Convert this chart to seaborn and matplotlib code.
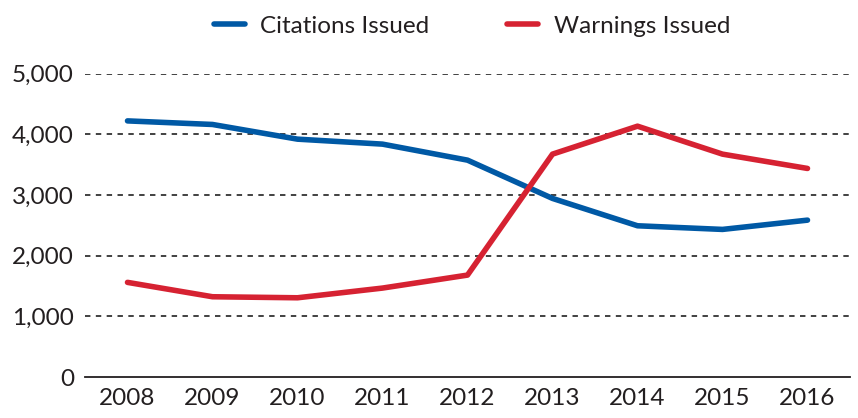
import matplotlib
matplotlib.use("Agg")
import matplotlib.pyplot as plt
import pandas as pd
import seaborn as sb

# valores
ANOS = ["2008", "2009", "2010", "2011", "2012", "2013", "2014", "2015", "2016"]
CITACOES = [4222, 4163, 3921, 3839, 3575, 2944, 2493, 2433, 2586]
AVISOS = [1560, 1323, 1306, 1466, 1680, 3674, 4135, 3674, 3438]
SERIES = ["Citations Issued", "Warnings Issued"]
CORES = ["#0059a5", "#d62232"]
Y_TICKS = [0, 1000, 2000, 3000, 4000, 5000]


def build_df() -> pd.DataFrame:
    df = pd.DataFrame({"ano": ANOS, SERIES[0]: CITACOES, SERIES[1]: AVISOS})
    return df.melt(id_vars="ano", var_name="serie", value_name="valor")


def plot_chart(df: pd.DataFrame):
    sb.set_style("white")
    plt.rcParams["font.family"] = ["Lato", "DejaVu Sans"]

    fig = plt.figure(figsize=(8.58, 4.18), dpi=100)
    ax = fig.add_axes([85 / 858, 1 - 377 / 418, 765 / 858, (377 - 73.7) / 418])

    sb.lineplot(data=df, x="ano", y="valor", hue="serie", hue_order=SERIES,
                palette=CORES, linewidth=4.0, ax=ax, sort=False,
                solid_capstyle="round")

    ax.set_xlim(-0.5, len(ANOS) - 0.5)
    ax.set_ylim(0, 5000)
    ax.set_yticks(Y_TICKS)
    ax.set_yticklabels([f"{v:,}" for v in Y_TICKS])
    ax.set_xlabel("")
    ax.set_ylabel("")

    # grade tracejada
    for v in Y_TICKS[1:]:
        ax.axhline(v, color="#333333", lw=1.3, ls=(0, (3.0, 3.0)), zorder=0)

    for lado in ["top", "right", "left"]:
        ax.spines[lado].set_visible(False)
    ax.spines["bottom"].set_color("#231f20")
    ax.spines["bottom"].set_linewidth(1.3)

    fs = 17.5
    ax.tick_params(axis="y", length=0, pad=8, labelsize=fs, labelcolor="#231f20")
    ax.tick_params(axis="x", which="major", length=0, pad=8, labelsize=fs,
                   labelcolor="#231f20")
    ax.set_xticks([i + 0.5 for i in range(len(ANOS) - 1)], minor=True)
    ax.tick_params(axis="x", which="minor", length=7, width=1.2, color="#231f20",
                   direction="out")

    handles, labels = ax.get_legend_handles_labels()
    ax.legend(handles, labels, ncol=2, frameon=False, loc="center",
              bbox_to_anchor=(0.506, 1.157), fontsize=fs,
              handlelength=1.25, handletextpad=0.65, columnspacing=3.2,
              labelcolor="#231f20")

    fig.savefig("out.png", dpi=100)
    plt.close(fig)


def main():
    plot_chart(build_df())


if __name__ == "__main__":
    main()
